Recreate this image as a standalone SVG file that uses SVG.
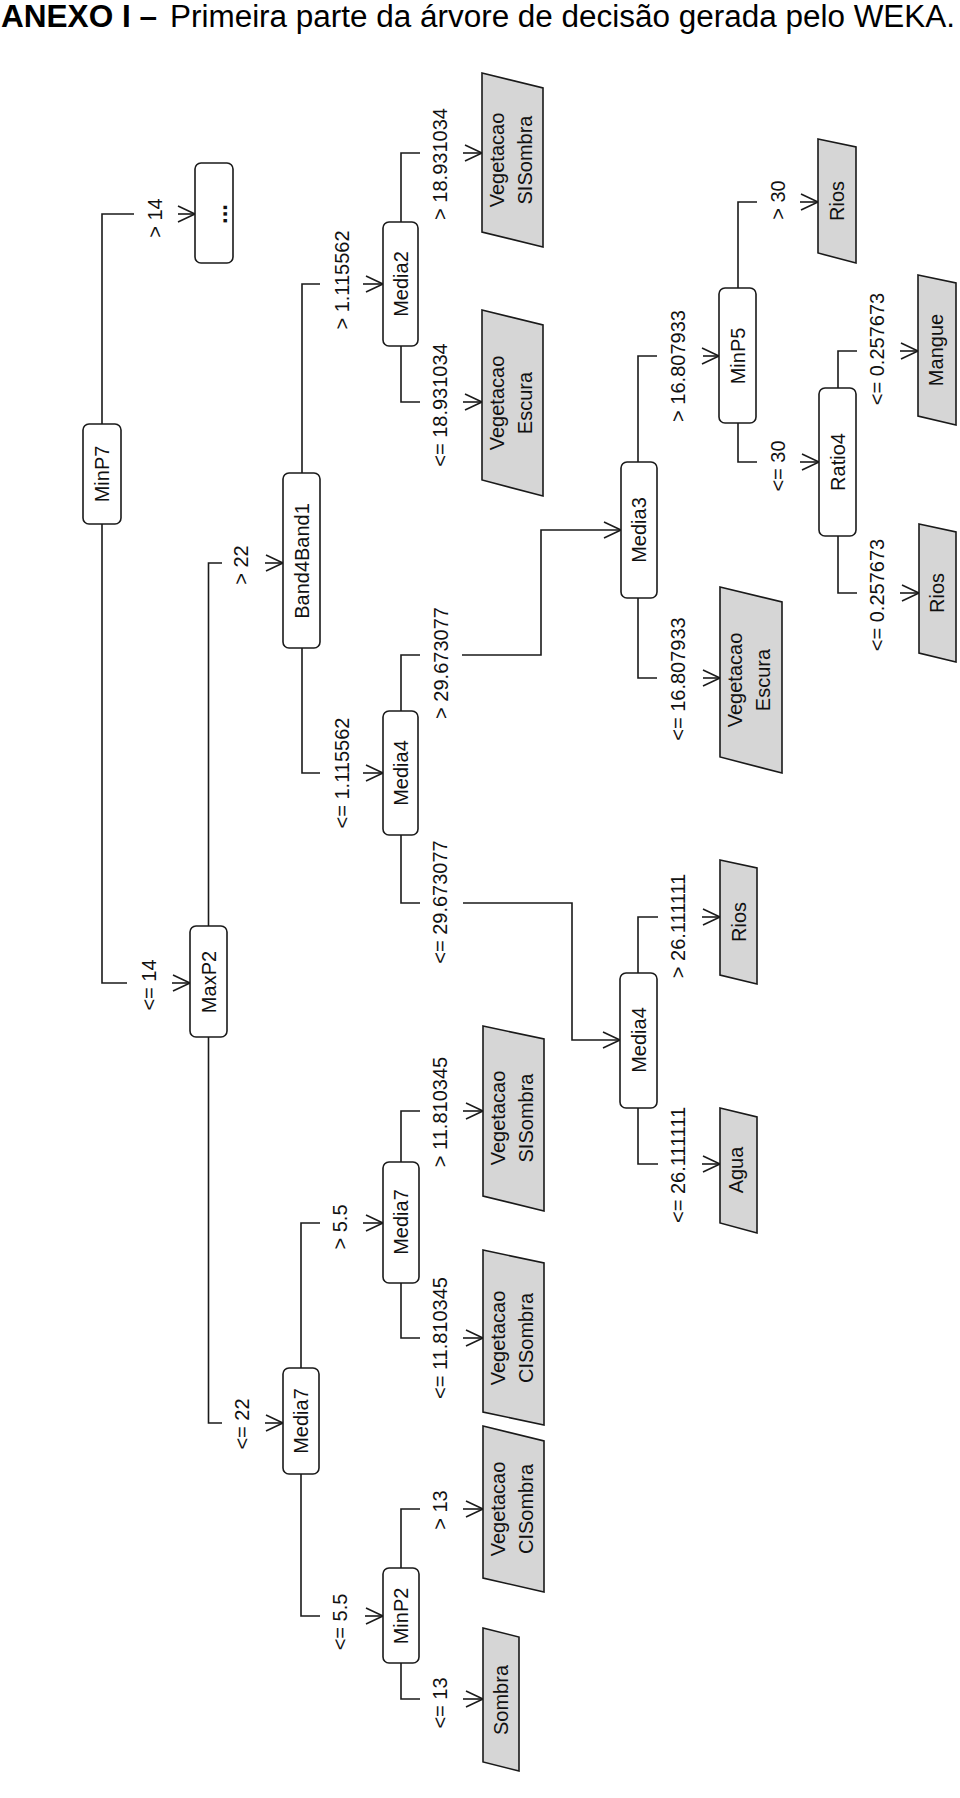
<svg xmlns="http://www.w3.org/2000/svg" width="960" height="1798" viewBox="0 0 960 1798">
<style>
.bg{fill:#ffffff}
.title{font-family:"Liberation Sans",Arial,sans-serif;font-size:31px;fill:#000}
.tb{font-weight:bold}
.node rect{fill:#ffffff;stroke:#1a1a1a;stroke-width:1.6}
.leaf polygon{fill:#d6d6d6;stroke:#1a1a1a;stroke-width:1.6}
.t{font-family:"Liberation Sans",Arial,sans-serif;font-size:20px;fill:#111;text-anchor:middle}
.dots{font-family:"Liberation Sans",Arial,sans-serif;font-size:24px;font-weight:bold;fill:#111;text-anchor:middle}
.lbl{font-family:"Liberation Sans",Arial,sans-serif;font-size:20px;fill:#111;text-anchor:middle}
#connectors path{fill:none;stroke:#1a1a1a;stroke-width:1.6}
#connectors path.a{marker-end:url(#arr)}
</style>
<defs>
<marker id="arr" markerUnits="userSpaceOnUse" viewBox="0 0 20 20" markerWidth="20" markerHeight="20" refX="18" refY="10" orient="auto" overflow="visible">
<path d="M1,2 L18,10 L1,18" fill="none" stroke="#1a1a1a" stroke-width="1.6"/>
</marker>
</defs>
<rect class="bg" x="0" y="0" width="960" height="1798"/>
<g id="title">
<text class="title tb" x="1" y="27" textLength="156" lengthAdjust="spacingAndGlyphs">ANEXO I –</text>
<text class="title" x="170" y="27" textLength="785" lengthAdjust="spacingAndGlyphs">Primeira parte da árvore de decisão gerada pelo WEKA.</text>
</g>
<g id="connectors">
<path d="M102,424 V214 H134"/><path class="a" d="M178,214 H195"/>
<path d="M102,524 V983 H127"/><path class="a" d="M172,983 H190"/>
<path d="M208.5,926 V563 H222"/><path class="a" d="M265,563 H283"/>
<path d="M208.5,1037 V1423 H222"/><path class="a" d="M265,1423 H283"/>
<path d="M302,473 V284 H320"/><path class="a" d="M363,284 H383"/>
<path d="M302,648 V773 H320"/><path class="a" d="M363,773 H383"/>
<path d="M301,1368 V1223 H320"/><path class="a" d="M363,1223 H383"/>
<path d="M301,1474 V1616 H320"/><path class="a" d="M365,1616 H383"/>
<path d="M401,222 V153 H420"/><path class="a" d="M463,153 H482"/>
<path d="M401,346 V402 H420"/><path class="a" d="M463,402 H482"/>
<path d="M401,711 V655 H420"/><path class="a" d="M462,655 H541 V530 H621"/>
<path d="M401,835 V903 H420"/><path class="a" d="M463,903 H572 V1040 H620"/>
<path d="M401,1162 V1111 H420"/><path class="a" d="M463,1111 H483"/>
<path d="M401,1283 V1338 H420"/><path class="a" d="M463,1338 H483"/>
<path d="M401,1568 V1509 H420"/><path class="a" d="M463,1509 H483"/>
<path d="M401,1663 V1699 H420"/><path class="a" d="M463,1699 H483"/>
<path d="M638,462 V356 H657"/><path class="a" d="M703,356 H719"/>
<path d="M638,598 V678 H657"/><path class="a" d="M703,678 H720"/>
<path d="M638,973 V917 H658"/><path class="a" d="M702,917 H720"/>
<path d="M638,1108 V1164 H658"/><path class="a" d="M702,1164 H720"/>
<path d="M738,288 V202 H757"/><path class="a" d="M800,202 H818"/>
<path d="M738,423 V462 H757"/><path class="a" d="M800,462 H819"/>
<path d="M838,388 V351 H857"/><path class="a" d="M900,351 H918"/>
<path d="M838,536 V593 H857"/><path class="a" d="M900,593 H919"/>
</g>
<g id="labels">
<text class="lbl" transform="translate(162,218) rotate(-90)">&gt; 14</text>
<text class="lbl" transform="translate(156,985) rotate(-90)">&lt;= 14</text>
<text class="lbl" transform="translate(248,565) rotate(-90)">&gt; 22</text>
<text class="lbl" transform="translate(249,1424) rotate(-90)">&lt;= 22</text>
<text class="lbl" transform="translate(349,280) rotate(-90)">&gt; 1.115562</text>
<text class="lbl" transform="translate(349,773) rotate(-90)">&lt;= 1.115562</text>
<text class="lbl" transform="translate(347,1227) rotate(-90)">&gt; 5.5</text>
<text class="lbl" transform="translate(347,1622) rotate(-90)">&lt;= 5.5</text>
<text class="lbl" transform="translate(447,164) rotate(-90)">&gt; 18.931034</text>
<text class="lbl" transform="translate(447,405) rotate(-90)">&lt;= 18.931034</text>
<text class="lbl" transform="translate(448,663) rotate(-90)">&gt; 29.673077</text>
<text class="lbl" transform="translate(447,902) rotate(-90)">&lt;= 29.673077</text>
<text class="lbl" transform="translate(447,1112) rotate(-90)">&gt; 11.810345</text>
<text class="lbl" transform="translate(447,1338) rotate(-90)">&lt;= 11.810345</text>
<text class="lbl" transform="translate(447,1510) rotate(-90)">&gt; 13</text>
<text class="lbl" transform="translate(447,1703) rotate(-90)">&lt;= 13</text>
<text class="lbl" transform="translate(685,366) rotate(-90)">&gt; 16.807933</text>
<text class="lbl" transform="translate(685,679) rotate(-90)">&lt;= 16.807933</text>
<text class="lbl" transform="translate(685,926) rotate(-90)">&gt; 26.111111</text>
<text class="lbl" transform="translate(685,1165) rotate(-90)">&lt;= 26.111111</text>
<text class="lbl" transform="translate(785,200) rotate(-90)">&gt; 30</text>
<text class="lbl" transform="translate(785,466) rotate(-90)">&lt;= 30</text>
<text class="lbl" transform="translate(884,349) rotate(-90)">&lt;= 0.257673</text>
<text class="lbl" transform="translate(884,595) rotate(-90)">&lt;= 0.257673</text>
</g>
<g id="n-minp7" class="node"><rect x="83" y="424" width="38" height="100" rx="6"/><text class="t" transform="translate(109,474) rotate(-90)">MinP7</text></g>
<g id="n-more" class="node"><rect x="195" y="163" width="38" height="100" rx="6"/><text class="dots" transform="translate(227,214) rotate(-90)">...</text></g>
<g id="n-maxp2" class="node"><rect x="190" y="926" width="37" height="111" rx="6"/><text class="t" transform="translate(216,982) rotate(-90)">MaxP2</text></g>
<g id="n-band4band1" class="node"><rect x="283" y="473" width="37" height="175" rx="6"/><text class="t" transform="translate(308.5,561) rotate(-90)">Band4Band1</text></g>
<g id="n-media7a" class="node"><rect x="283" y="1368" width="36" height="106" rx="6"/><text class="t" transform="translate(308,1421) rotate(-90)">Media7</text></g>
<g id="n-media2" class="node"><rect x="383" y="222" width="35" height="124" rx="6"/><text class="t" transform="translate(407.5,284) rotate(-90)">Media2</text></g>
<g id="n-media4a" class="node"><rect x="383" y="711" width="35" height="124" rx="6"/><text class="t" transform="translate(407.5,773) rotate(-90)">Media4</text></g>
<g id="n-media7b" class="node"><rect x="383" y="1162" width="36" height="121" rx="6"/><text class="t" transform="translate(408,1222) rotate(-90)">Media7</text></g>
<g id="n-minp2" class="node"><rect x="383" y="1568" width="36" height="95" rx="6"/><text class="t" transform="translate(408,1616) rotate(-90)">MinP2</text></g>
<g id="n-media3" class="node"><rect x="621" y="462" width="36" height="136" rx="6"/><text class="t" transform="translate(646,530) rotate(-90)">Media3</text></g>
<g id="n-media4b" class="node"><rect x="620" y="973" width="37" height="135" rx="6"/><text class="t" transform="translate(645.5,1040) rotate(-90)">Media4</text></g>
<g id="n-minp5" class="node"><rect x="719" y="288" width="37" height="135" rx="6"/><text class="t" transform="translate(744.5,356) rotate(-90)">MinP5</text></g>
<g id="n-ratio4" class="node"><rect x="819" y="388" width="37" height="148" rx="6"/><text class="t" transform="translate(844.5,462) rotate(-90)">Ratio4</text></g>
<g id="l-vss1" class="leaf"><polygon points="482,73 543,88 543,247 482,232"/><text class="t" transform="translate(504,160) rotate(-90)">Vegetacao</text><text class="t" transform="translate(532,160) rotate(-90)">SISombra</text></g>
<g id="l-ve1" class="leaf"><polygon points="482,310 543,325 543,496 482,480"/><text class="t" transform="translate(504,403) rotate(-90)">Vegetacao</text><text class="t" transform="translate(532,403) rotate(-90)">Escura</text></g>
<g id="l-ve2" class="leaf"><polygon points="720,587 782,602 782,773 720,757"/><text class="t" transform="translate(742,680) rotate(-90)">Vegetacao</text><text class="t" transform="translate(770,680) rotate(-90)">Escura</text></g>
<g id="l-rios1" class="leaf"><polygon points="818,139 856,147 856,263 818,253"/><text class="t" transform="translate(844,201) rotate(-90)">Rios</text></g>
<g id="l-mangue" class="leaf"><polygon points="918,275 956,283 956,425 918,416"/><text class="t" transform="translate(943,350) rotate(-90)">Mangue</text></g>
<g id="l-rios2" class="leaf"><polygon points="919,524 956,532 956,662 919,653"/><text class="t" transform="translate(944,593) rotate(-90)">Rios</text></g>
<g id="l-rios3" class="leaf"><polygon points="720,860 757,868 757,984 720,975"/><text class="t" transform="translate(745.5,922) rotate(-90)">Rios</text></g>
<g id="l-agua" class="leaf"><polygon points="720,1108 757,1117 757,1233 720,1223"/><text class="t" transform="translate(743,1170) rotate(-90)">Agua</text></g>
<g id="l-vss2" class="leaf"><polygon points="483,1026 544,1039 544,1211 483,1196"/><text class="t" transform="translate(505,1118) rotate(-90)">Vegetacao</text><text class="t" transform="translate(533,1118) rotate(-90)">SISombra</text></g>
<g id="l-vcs1" class="leaf"><polygon points="483,1250 544,1263 544,1425 483,1412"/><text class="t" transform="translate(505,1338) rotate(-90)">Vegetacao</text><text class="t" transform="translate(533,1338) rotate(-90)">CISombra</text></g>
<g id="l-vcs2" class="leaf"><polygon points="483,1426 544,1441 544,1592 483,1578"/><text class="t" transform="translate(505,1509) rotate(-90)">Vegetacao</text><text class="t" transform="translate(533,1509) rotate(-90)">CISombra</text></g>
<g id="l-sombra" class="leaf"><polygon points="483,1628 519,1637 519,1771 483,1762"/><text class="t" transform="translate(508,1700) rotate(-90)">Sombra</text></g>
</svg>
